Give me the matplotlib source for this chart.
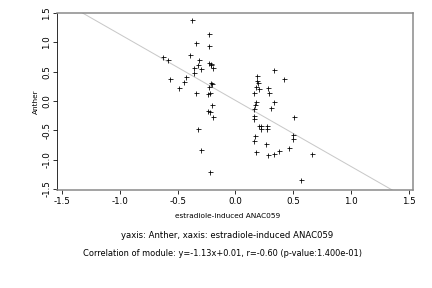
import numpy as np
import matplotlib
matplotlib.use("Agg")
import matplotlib.pyplot as plt

plt.rcParams['font.family'] = ['DejaVu Sans']

# values
x_vals = [-0.630, -0.587, -0.570, -0.492, -0.449, -0.428, -0.397, -0.380, -0.362, -0.356,
          -0.341, -0.345, -0.319, -0.322, -0.296, -0.324, -0.302, -0.229, -0.229, -0.229,
          -0.215, -0.212, -0.195, -0.212, -0.207, -0.229, -0.241, -0.218, -0.207, -0.241,
          -0.224, -0.198, -0.224,
          0.329, 0.416, 0.186, 0.186, 0.191, 0.174, 0.203, 0.156, 0.279, 0.286,
          0.174, 0.169, 0.156, 0.329, 0.305, 0.156, 0.156, 0.504, 0.200, 0.223,
          0.271, 0.223, 0.271, 0.169, 0.156, 0.494, 0.494, 0.262, 0.465, 0.177,
          0.279, 0.331, 0.380, 0.661, 0.565]
y_vals = [0.747, 0.696, 0.376, 0.222, 0.325, 0.410, 0.791, 1.385, 0.479, 0.564,
          0.986, 0.142, 0.701, 0.610, 0.547, -0.479, -0.838, 1.145, 0.940, 0.655,
          0.638, 0.610, 0.569, 0.313, 0.296, 0.244, 0.125, 0.137, -0.063, -0.171,
          -0.188, -0.274, -1.214,
          0.530, 0.376, 0.427, 0.337, 0.313, 0.234, 0.200, 0.132, 0.222, 0.133,
          -0.017, -0.068, -0.142, -0.017, -0.116, -0.262, -0.313, -0.279, -0.427, -0.427,
          -0.419, -0.484, -0.474, -0.598, -0.679, -0.585, -0.653, -0.735, -0.807, -0.872,
          -0.920, -0.909, -0.858, -0.909, -1.354]
slope = -1.13
intercept = 0.01
ticks = [-1.5, -1.0, -0.5, 0.0, 0.5, 1.0, 1.5]
tick_labels = ["-1.5", "-1.0", "-0.5", "0.0", "0.5", "1.0", "1.5"]

fig = plt.figure(figsize=(6, 4), dpi=72)
ax = fig.add_axes([57/432, 1 - 190/288, 356/432, 177/288])

xl = (-1.543, 1.535)
yl = (-1.521, 1.504)
xx = np.array(xl)
ax.plot(xx, slope * xx + intercept, color='#c8c8c8', lw=1)
ax.plot(x_vals, y_vals, '+', color='black', ms=5, mew=0.8)
ax.set_xlim(xl)
ax.set_ylim(yl)

ax.set_xticks(ticks)
ax.set_xticklabels(tick_labels, fontsize=8.7)
ax.set_yticks(ticks)
ax.set_yticklabels(tick_labels, fontsize=8.7, rotation=90, va='center')
ax.tick_params(length=4, width=0.8)
ax.tick_params(axis='x', pad=3.5)
ax.tick_params(axis='y', pad=1.5)

for s in ['top', 'right', 'bottom']:
    ax.spines[s].set_color('#888888')
    ax.spines[s].set_linewidth(1.5)
ax.spines['left'].set_linewidth(0.8)

ax.set_ylabel("Anther", fontsize=7.4, labelpad=3.5)

fig.text(228/432, 1 - 216/288, "estradiole-induced ANAC059", fontsize=7.4, ha='center', va='center')
fig.text(227.5/432, 1 - 236/288, "yaxis: Anther, xaxis: estradiole-induced ANAC059",
         fontsize=8.5, ha='center', va='center')
fig.text(222.5/432, 1 - 253/288,
         "Correlation of module: y=-1.13x+0.01, r=-0.60 (p-value:1.400e-01)",
         fontsize=8.25, ha='center', va='center')

fig.savefig("out.png", dpi=72)
